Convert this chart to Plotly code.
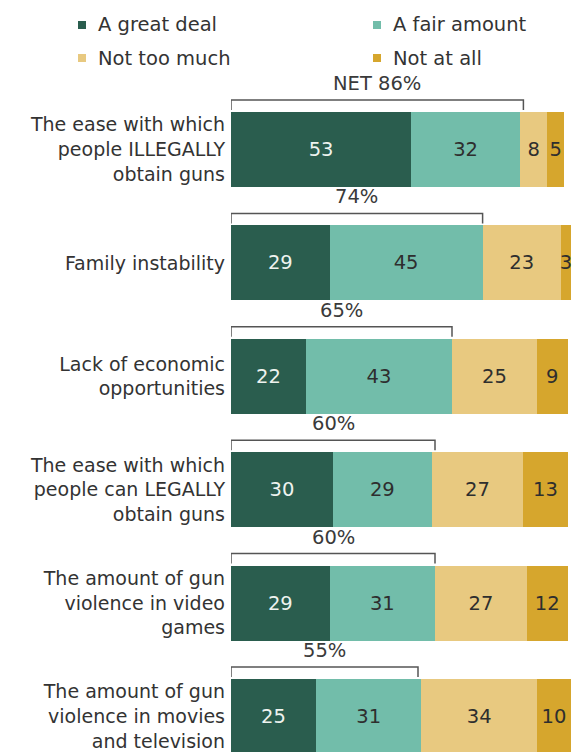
import plotly.graph_objects as go

# ---- data ----
categories = [
    "The ease with which<br>people ILLEGALLY<br>obtain guns",
    "Family instability",
    "Lack of economic<br>opportunities",
    "The ease with which<br>people can LEGALLY<br>obtain guns",
    "The amount of gun<br>violence in video<br>games",
    "The amount of gun<br>violence in movies<br>and television",
]
series_names = ["A great deal", "A fair amount", "Not too much", "Not at all"]
great_deal = [53, 29, 22, 30, 29, 25]
fair_amount = [32, 45, 43, 29, 31, 31]
not_too_much = [8, 23, 25, 27, 27, 34]
not_at_all = [5, 3, 9, 13, 12, 10]
net_values = [86, 74, 65, 60, 60, 55]

# ---- style ----
colors = ["#2a5d4e", "#72bdaa", "#e8c980", "#d6a62d"]
text_colors = ["#eef3ef", "#2e2e2e", "#2e2e2e", "#2e2e2e"]
FONT = "DejaVu Sans"
FS = 19.5
W, H = 574, 752
L, R = 231, 3
PITCH = 113.4          # px per category
BAR_H = 75             # px bar thickness
FIRST_CENTER = 149.5   # px of first bar centre

ypos = list(range(len(categories)))
y_top = -FIRST_CENTER / PITCH
y_bot = (H - FIRST_CENTER) / PITCH

fig = go.Figure()
for name, vals, col, tcol in zip(series_names,
                                 [great_deal, fair_amount, not_too_much, not_at_all],
                                 colors, text_colors):
    fig.add_trace(go.Bar(
        y=ypos, x=vals, name=name, orientation="h",
        marker=dict(color=col, line=dict(width=0)),
        text=vals, texttemplate="%{x}", textposition="inside",
        insidetextanchor="middle", textangle=0,
        textfont=dict(family=FONT, size=FS, color=tcol),
        showlegend=False, hoverinfo="skip", cliponaxis=False,
    ))

shapes = []
annotations = []
u = 1.0 / PITCH
for i, n in enumerate(net_values):
    yb = i - (BAR_H / 2 + 12) * u
    yt = yb + 10 * u
    shapes.append(dict(
        type="path", xref="x", yref="y",
        path=f"M 0,{yt} L 0,{yb} L {n},{yb} L {n},{yt}",
        line=dict(color="#555555", width=1.5),
    ))
    label = (f"NET {n}%" if i == 0 else f"{n}%")
    annotations.append(dict(
        x=n / 2, y=yb - 16.5 * u, xref="x", yref="y",
        text=label, showarrow=False, xanchor="center", yanchor="middle",
        font=dict(family=FONT, size=FS, color="#3a3a3a"),
    ))

# custom legend (two columns, two rows)
leg_pos = [(82, 25), (377, 25), (82, 58), (377, 58)]
plot_w = W - L - R
for name, col, (cx, cy) in zip(series_names, colors, leg_pos):
    x0 = (cx - 4 - L) / plot_w
    x1 = (cx + 4 - L) / plot_w
    y0 = 1 - (cy + 4) / H
    y1 = 1 - (cy - 4) / H
    shapes.append(dict(type="rect", xref="paper", yref="paper",
                       x0=x0, x1=x1, y0=y0, y1=y1,
                       fillcolor=col, line=dict(width=0)))
    annotations.append(dict(
        x=(cx + 14 - L) / plot_w, y=1 - cy / H, xref="paper", yref="paper",
        text=name, showarrow=False, xanchor="left", yanchor="middle",
        font=dict(family=FONT, size=FS, color="#333333"),
    ))

fig.update_layout(
    width=W, height=H,
    margin=dict(l=L, r=R, t=0, b=0, pad=0, autoexpand=False),
    barmode="stack", bargap=1 - BAR_H / PITCH,
    paper_bgcolor="white", plot_bgcolor="white",
    showlegend=False,
    shapes=shapes, annotations=annotations,
    uniformtext=dict(mode="show", minsize=FS),
    xaxis=dict(range=[0, 100], visible=False, fixedrange=True, automargin=False),
    yaxis=dict(range=[y_bot, y_top], tickvals=ypos, ticktext=categories,
               showgrid=False, zeroline=False, showline=False, ticks="",
               ticklabelstandoff=5, automargin=False, ticklabeloverflow="allow",
               fixedrange=True,
               tickfont=dict(family=FONT, size=19, color="#333333")),
    font=dict(family=FONT, size=FS, color="#333333"),
)

fig.write_html(
    "out.html",
    config={"displayModeBar": False, "staticPlot": True},
    post_script="document.body.style.margin='0';document.body.style.overflow='hidden';",
)
